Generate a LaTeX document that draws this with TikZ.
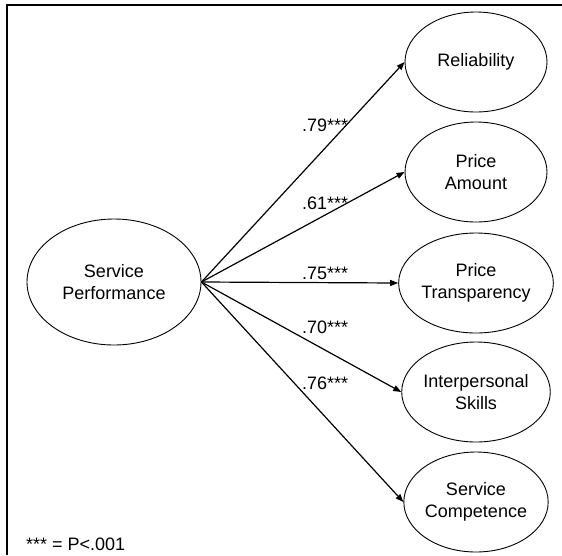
\documentclass[tikz,border=0pt]{standalone}
\usepackage{fontspec}
\setmainfont{Liberation Sans}
\usetikzlibrary{shapes.geometric,arrows.meta}
\begin{document}
\begin{tikzpicture}[x=1pt,y=-1pt,
  lat/.style={ellipse,draw,line width=0.9pt,minimum width=142pt,minimum height=100pt,inner sep=0pt,align=center,font=\fontsize{18}{22}\selectfont},
  link/.style={line width=1.2pt,-{Triangle[length=8pt,width=6pt]}},
  coef/.style={anchor=west,inner sep=0pt,font=\fontsize{18}{22}\selectfont},
  frameline/.style={line width=1.2pt}]
\useasboundingbox (0,0) rectangle (562,555);
\draw[frameline] (7,555) -- (7,5) -- (562,5);
\node[lat,minimum width=174pt,minimum height=126pt] (sp) at (114,282) {Service\\Performance};
\node[lat] (rel) at (476,62) {Reliability};
\node[lat] (pa) at (476,172) {Price\\Amount};
\node[lat] (pt) at (476,283) {Price\\Transparency};
\node[lat] (is) at (476,392) {Interpersonal\\Skills};
\node[lat] (sc) at (476,502) {Service\\Competence};
\draw[link] (sp.east) -- (rel.west);
\draw[link] (sp.east) -- (pa.west);
\draw[link] (sp.east) -- (pt.west);
\draw[link] (sp.east) -- (is.west);
\draw[link] (sp.east) -- (sc.west);
\node[coef] (c1) at (302,125) {.79***};
\node[coef] (c2) at (302,203) {.61***};
\node[coef] (c3) at (302,273) {.75***};
\node[coef] (c4) at (302,327) {.70***};
\node[coef] (c5) at (302,383) {.76***};
\node[coef] (note) at (26,544) {*** = P<.001};
\end{tikzpicture}
\end{document}
